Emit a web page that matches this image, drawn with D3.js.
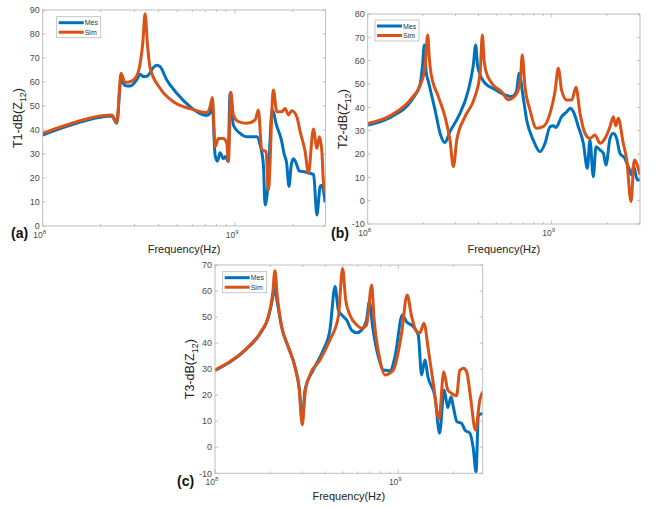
<!DOCTYPE html>
<html>
<head>
<meta charset="utf-8">
<script src="https://cdn.jsdelivr.net/npm/d3@7"></script>
<style>
  body { margin: 0; background: #fff; }
  text { font-family: "Liberation Sans", Arial, sans-serif; }
</style>
</head>
<body>
<svg id="fig" width="659" height="507"></svg>
<script>
// frequencies in MHz, levels in dB

// panel (a)
var aMesF = [100,133.4,198.6,228.6,242.7,255.3,267.9,284.4,308.3,320.6,333.4,347.5,375.8,391.7,407.4,441.6,497.7,583.4,657.7,712.9,741.3,762.1,787,809.1,835.6,869,891.3,918.3,941.9,979.5,1062,1151,1297,1349,1403,1432,1472,1560,1641,1738,1799,1854,1905,1959,2009,2080,2153,2312,2559,2661,2767,2825,2938];
var aMesV = [37.9,41.5,45.3,45.8,42.8,61,58.5,58.3,61,63.2,62.3,62.4,66,67,66.4,60.8,55.3,49.7,46.8,46,47,50,29.6,27,30.5,28,29,27,55.3,42,38.6,37.2,37.2,33.8,25.4,8.75,14.3,48.5,42,36,30,26,16.5,25.5,28,26,23,22.5,21.4,4.6,16.4,17,10];
var aSimF = [100,133.4,198.6,228.6,242.7,255.3,267.9,284.4,308.3,320.6,331.1,340.4,350.8,361.4,407.4,477.5,538.3,606.7,657.7,712.9,741.3,762.1,787,818.5,869,905.7,922.6,950.6,979.5,1040,1151,1271,1321,1377,1449,1489,1581,1648,1750,1820,1892,1972,2094,2178,2312,2404,2553,2661,2742,2825,2877,2951];
var aSimV = [38.6,42.1,45.8,46.2,43.1,63.6,59.8,60.1,62.6,67.5,76,88.4,75,66,57.4,51.8,49.7,48.5,47.6,47.3,49.7,53.5,33,36.5,36.5,34.5,26.8,55.7,46.3,43.5,42.8,44.2,48.3,31.7,31,15,56.7,47.6,47.6,49,46.3,48,45.5,39.3,31,22,40.4,32.4,37.2,31,18.5,14];

// panel (b)
var bMesF = [100,134.9,173.4,192.3,198.6,203.2,208,213.8,232.3,248.3,263,279.9,311.2,352.4,375,386.4,395.4,402.7,434.5,492,557.2,606.7,642.7,666.8,695,731.1,794.3,863,920.4,979.5,1021,1054,1132,1208,1259,1312,1396,1486,1563,1614,1683,1742,1832,1910,1972,2075,2163,2254,2350,2500,2606,2723,2786,2917,3020];
var bMesV = [32.4,36,43.1,49.6,58,66.7,55,51,38.9,28.5,24.9,29.6,36,47.4,58.1,66.7,58,55.3,50.3,47.7,45.3,44.6,46.7,54.6,46,34.6,26,21,24.6,31.7,32.1,31.4,36,38.1,39.6,38.1,31.7,24.6,13.9,26,10.3,23.1,21.7,20.3,15.3,26.7,28.9,26.7,20.3,18.1,14.6,11,15,8.9,9];
var bSimF = [100,134.9,173.4,196.3,205.1,211.8,216.8,220.8,242.1,263,279.9,292.4,304.8,338.1,382.8,408.3,419.8,429.5,437.5,472.1,534.6,580.8,645.7,676.1,691.8,716.1,762.1,827.9,899.5,979.5,1042,1086,1132,1208,1285,1355,1426,1517,1614,1718,1832,1950,2075,2163,2228,2301,2449,2559,2698,2812,3020];
var bSimV = [33.1,36.7,43.9,51,57.4,71,60,54.6,44.6,36,26,14.6,26,36,44.6,54.6,71,60,56,50.3,46.7,43.3,46,52,62.4,48.9,38.9,31,31.7,37.4,46.7,56.7,47.4,43.1,43.1,48.6,37.4,28.9,26.7,28.1,24.6,26.7,31.7,36,32,35.3,24.6,17.4,-0.4,17.4,11];

// panel (c)
var cMesF = [100,120.8,148.9,175.8,195.4,206.5,211.3,217.8,231.2,251.2,272.9,288.4,299.2,309.7,343.6,389.9,423.6,451.9,471,501.2,522.4,555.9,592.9,631,671.4,695,724.4,778,827.9,901.6,959.4,1052,1109,1208,1285,1340,1396,1452,1585,1679,1778,1862,1941,1995,2089,2213,2312,2455,2564,2655,2735,2887];
var cMesV = [29.5,32.7,37.8,43.5,50,57.5,62,56.5,46,38.4,31,22.5,10,22,29.7,37.4,45,61.7,52.7,50.2,48.9,45,44,45,48.9,55.9,46.3,34.8,29.7,29.4,34.8,50.8,48.2,46.3,43.1,27.8,33.5,27,19.4,5.4,22,15.3,19.4,15.6,9.8,9.2,6.6,5.4,-0.4,-9.4,12.4,13];
var cSimF = [100,120.8,148.9,175.8,195.4,206.5,212.3,218.8,231.2,251.2,272.9,288.4,299.2,309.7,329.6,374.1,423.6,471,496.6,516.4,544.5,592.9,631,671.4,716.1,736.2,794.3,845.3,939.7,1042,1117,1183,1259,1312,1380,1459,1552,1667,1770,1862,1954,2080,2163,2265,2360,2472,2636,2786,2887];
var cSimV = [29.7,32.9,38,43.8,50.2,59.1,67.8,57.8,46.3,38.6,31,22,8.6,20.7,27.8,33.5,41.2,50.2,68.7,56.6,50.8,47,45.7,47,62.3,50.2,33.5,27.8,29.7,43.8,58.5,50.2,44.4,44,47.6,37.4,24.6,10.8,29,22,20.7,19.8,29.5,30.3,29,19.8,6.6,18.2,21.4];

var seriesNames = ["Mes", "Sim"];
var seriesColors = ["#0072BD", "#D95319"];

var svg = d3.select("#fig");

var panels = [
  { tag: "(a)", ylab: "T1", left: 42.7, right: 325.5, top: 10, bottom: 226, fmax: 2.95e9,
    ymin: 0, ymax: 90, mes: [aMesF, aMesV], sim: [aSimF, aSimV],
    legend: [56.7, 16.7], ylabX: 22, tagX: 11, tagY: 238, xlabY: 253 },
  { tag: "(b)", ylab: "T2", left: 367.7, right: 640, top: 14, bottom: 224, fmax: 3.02e9,
    ymin: -10, ymax: 80, mes: [bMesF, bMesV], sim: [bSimF, bSimV],
    legend: [375, 20], ylabX: 347, tagX: 331, tagY: 238, xlabY: 253 },
  { tag: "(c)", ylab: "T3", left: 215, right: 482.7, top: 265, bottom: 473.3, fmax: 2.887e9,
    ymin: -10, ymax: 70, mes: [cMesF, cMesV], sim: [cSimF, cSimV],
    legend: [222.7, 271.7], ylabX: 194, tagX: 177, tagY: 486, xlabY: 500 }
];

panels.forEach(function (p, i) {
  var x = d3.scaleLog().domain([1e8, p.fmax]).range([p.left, p.right]);
  var y = d3.scaleLinear().domain([p.ymin, p.ymax]).range([p.bottom, p.top]);
  var g = svg.append("g");
  var w = p.right - p.left, h = p.bottom - p.top;

  g.append("rect")
    .attr("x", p.left).attr("y", p.top).attr("width", w).attr("height", h)
    .attr("fill", "#fff");

  // ticks inside, on all four sides
  var yt = d3.range(p.ymin, p.ymax + 1, 10);
  var major = [1e8, 1e9];
  var minor = [];
  [1e8, 1e9].forEach(function (d) {
    for (var k = 2; k <= 9; k++) if (d * k <= p.fmax) minor.push(d * k);
  });
  var tk = g.append("g").attr("stroke", "#b0b0b0").attr("stroke-width", 0.8);
  yt.forEach(function (v) {
    tk.append("line").attr("x1", p.left).attr("x2", p.left + 3).attr("y1", y(v)).attr("y2", y(v));
    tk.append("line").attr("x1", p.right).attr("x2", p.right - 3).attr("y1", y(v)).attr("y2", y(v));
  });
  major.concat(minor).forEach(function (f) {
    var len = major.indexOf(f) >= 0 ? 3.5 : 2;
    tk.append("line").attr("x1", x(f)).attr("x2", x(f)).attr("y1", p.bottom).attr("y2", p.bottom - len);
    tk.append("line").attr("x1", x(f)).attr("x2", x(f)).attr("y1", p.top).attr("y2", p.top + len);
  });

  // tick labels
  yt.forEach(function (v) {
    g.append("text").attr("x", p.left - 3).attr("y", y(v) + 3.2)
      .attr("text-anchor", "end").attr("font-size", 9).attr("fill", "#4a4a4a")
      .text(v);
  });
  major.forEach(function (f, j) {
    var t = g.append("text").attr("x", x(f) - 3).attr("y", p.bottom + 12)
      .attr("text-anchor", "middle").attr("font-size", 8.5).attr("fill", "#4a4a4a");
    t.append("tspan").text("10");
    t.append("tspan").attr("dy", -4).attr("font-size", 6).text(j === 0 ? "8" : "9");
  });

  // curves
  var clipId = "clip" + i;
  svg.append("clipPath").attr("id", clipId).append("rect")
    .attr("x", p.left).attr("y", p.top).attr("width", w).attr("height", h);
  var line = d3.line()
    .x(function (d) { return x(d[0] * 1e6); })
    .y(function (d) { return y(d[1]); })
    .curve(d3.curveMonotoneX);
  [p.mes, p.sim].forEach(function (s, k) {
    var pts = s[0].map(function (f, j) { return [f, s[1][j]]; });
    g.append("path").datum(pts)
      .attr("clip-path", "url(#" + clipId + ")")
      .attr("fill", "none").attr("stroke", seriesColors[k])
      .attr("stroke-width", 3).attr("stroke-linejoin", "round")
      .attr("d", line);
  });

  // frame
  g.append("rect")
    .attr("x", p.left).attr("y", p.top).attr("width", w).attr("height", h)
    .attr("fill", "none").attr("stroke", "#b8b8b8").attr("stroke-width", 0.9);

  // legend
  var lx = p.legend[0], ly = p.legend[1];
  var lg = g.append("g");
  lg.append("rect").attr("x", lx).attr("y", ly).attr("width", 44).attr("height", 21)
    .attr("fill", "#fff").attr("stroke", "#b8b8b8").attr("stroke-width", 0.8);
  seriesNames.forEach(function (n, k) {
    var yy = ly + 6 + k * 9.5;
    lg.append("line").attr("x1", lx + 2).attr("x2", lx + 27).attr("y1", yy).attr("y2", yy)
      .attr("stroke", seriesColors[k]).attr("stroke-width", 3);
    lg.append("text").attr("x", lx + 28).attr("y", yy + 2.6)
      .attr("font-size", 7).attr("fill", "#333").text(n);
  });

  // axis labels
  g.append("text").attr("x", (p.left + p.right) / 2).attr("y", p.xlabY)
    .attr("text-anchor", "middle").attr("font-size", 11).attr("fill", "#222")
    .text("Frequency(Hz)");
  var cy = (p.top + p.bottom) / 2;
  var yl = g.append("text")
    .attr("transform", "translate(" + p.ylabX + "," + cy + ") rotate(-90)")
    .attr("text-anchor", "middle").attr("font-size", 12.5).attr("fill", "#222");
  yl.append("tspan").text(p.ylab + "-dB(Z");
  yl.append("tspan").attr("dy", 3.5).attr("font-size", 9).text("12");
  yl.append("tspan").attr("dy", -3.5).text(")");

  // panel tag
  g.append("text").attr("x", p.tagX).attr("y", p.tagY)
    .attr("font-size", 14).attr("font-weight", "bold").attr("fill", "#111")
    .text(p.tag);
});
</script>
</body>
</html>
